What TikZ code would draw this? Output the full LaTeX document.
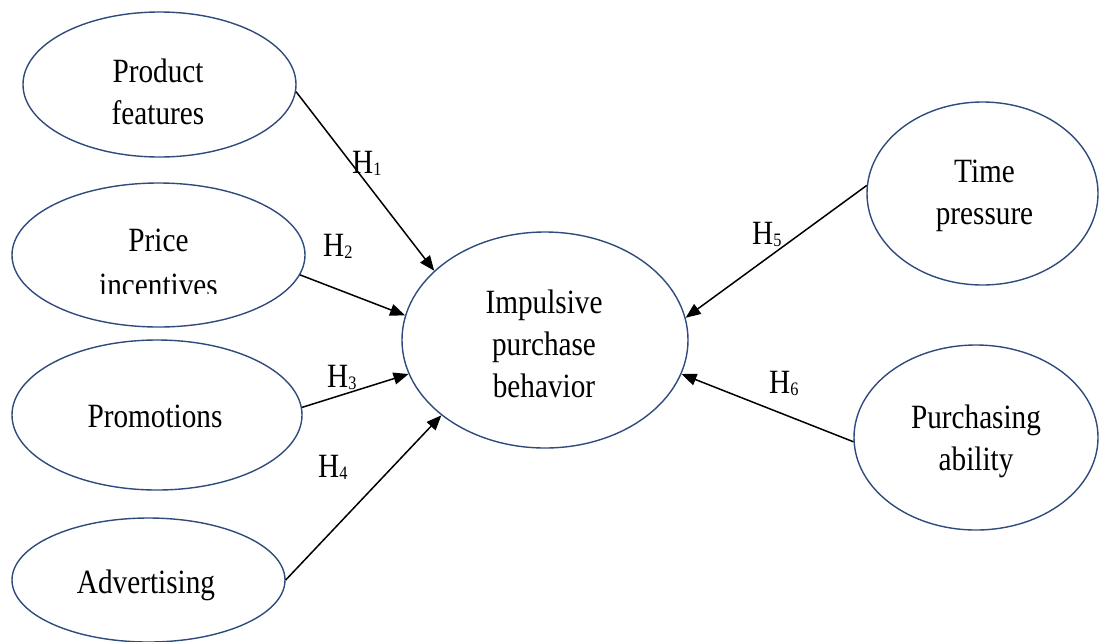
\documentclass[tikz,border=0pt]{standalone}
\usepackage{fontspec}
\setmainfont{Liberation Serif}[FakeStretch=0.86]
\usetikzlibrary{arrows.meta,shapes.geometric}
\definecolor{ovalc}{HTML}{2F4B7C}
\newcommand\hsub[1]{\raisebox{-2pt}{\fontsize{19}{19}\selectfont #1}}
\begin{document}
\begin{tikzpicture}[x=1pt,y=-1pt,
  txt/.style={inner sep=0pt,align=center,font=\fontsize{34}{42}\selectfont},
  oval/.style={ellipse,draw=ovalc,line width=1.4pt,inner sep=0pt},
  conn/.style={line width=1.5pt,-{Triangle[length=15pt,width=12pt]}},
  hlab/.style={anchor=base west,inner sep=0pt,font=\fontsize{34}{42}\selectfont}]
\useasboundingbox (0,0) rectangle (1099,641);

% ellipses
\node[oval,minimum width=273pt,minimum height=145pt] (prod) at (159.5,84.5) {};
\node[oval,minimum width=293pt,minimum height=144pt] (price) at (158.5,255) {};
\node[oval,minimum width=290pt,minimum height=150pt] (promo) at (157,415) {};
\node[oval,minimum width=273pt,minimum height=124pt] (adv) at (148.5,580) {};
\node[oval,minimum width=286pt,minimum height=216pt] (imp) at (545,340) {};
\node[oval,minimum width=231pt,minimum height=183pt] (time) at (982.5,193.5) {};
\node[oval,minimum width=244pt,minimum height=185pt] (purch) at (976,437.5) {};

% texts
\node[txt] (prod-t) at (158,91.5) {Product\\features};
\begin{scope}
  \clip (0,0) rectangle (1099,293.5);
  \node[txt] (price-t) at (158.5,263) {Price\\[3pt]incentives};
\end{scope}
\node[txt] (promo-t) at (155,416.5) {Promotions};
\node[txt] (adv-t) at (146,585) {Advertising};
\node[txt] (imp-t) at (544,343.7) {Impulsive\\purchase\\behavior};
\node[txt] (time-t) at (984.5,196.1) {Time\\pressure};
\node[txt] (purch-t) at (976,441.1) {Purchasing\\ability};

% connectors
\draw[conn] (prod.-3) -- (imp.148.7);
\draw[conn] (price.-8.3) -- (imp.170.3);
\draw[conn] (promo.3.6) -- (imp.194.3);
\draw[conn] (adv.east) -- (imp.216.5);
\draw[conn] (time.176.8) -- (imp.9.5);
\draw[conn] (purch.182.6) -- (imp.-14.4);

% labels
\node[hlab] (h1) at (352,173) {H\hsub{1}};
\node[hlab] (h2) at (323,256) {H\hsub{2}};
\node[hlab] (h3) at (327,387) {H\hsub{3}};
\node[hlab] (h4) at (318,477) {H\hsub{4}};
\node[hlab] (h5) at (752,244) {H\hsub{5}};
\node[hlab] (h6) at (769,393) {H\hsub{6}};
\end{tikzpicture}
\end{document}
